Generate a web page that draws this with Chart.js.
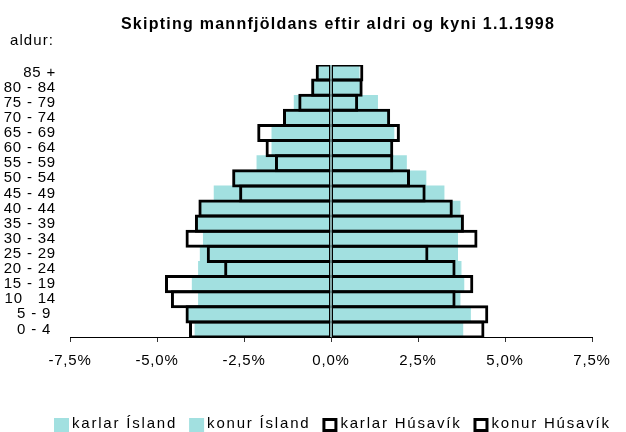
<!DOCTYPE html>
<html>
<head>
<meta charset="utf-8">
<script src="https://cdn.jsdelivr.net/npm/chart.js@4/dist/chart.umd.min.js"></script>
<style>
  html, body { margin: 0; padding: 0; background: #fff; }
</style>
</head>
<body>
<canvas id="pyramid" width="626" height="432"></canvas>
<script>
// Aldurshópar, yngstu fyrst (y-ásnum er snúið við svo 0 - 4 lendir neðst)
const ageGroups = ['0 - 4 ', '5 - 9 ', '10   14', '15 - 19', '20 - 24', '25 - 29', '30 - 34', '35 - 39',
  '40 - 44', '45 - 49', '50 - 54', '55 - 59', '60 - 64', '65 - 69', '70 - 74', '75 - 79', '80 - 84', '85 +'];

// Hlutfall af mannfjölda (%), karlar neikvæðir
const karlarIsland  = [-3.91, -4.12, -3.81, -3.99, -3.81, -3.76, -3.67, -3.84, -3.75, -3.36, -2.75, -2.13, -1.70, -1.70, -1.35, -1.06, -0.55, -0.40];
const konurIsland   = [ 3.79,  4.01,  3.71,  3.82,  3.74,  3.64,  3.64,  3.76,  3.71,  3.25,  2.73,  2.17,  1.76,  1.81,  1.66,  1.34,  0.88,  0.81];
const karlarHusavik = [-4.08, -4.18, -4.60, -4.77, -3.07, -3.57, -4.18, -3.91, -3.81, -2.64, -2.84, -1.61, -1.88, -2.12, -1.38, -0.94, -0.57, -0.44];
const konurHusavik  = [ 4.41,  4.52,  3.58,  4.09,  3.58,  2.80,  4.21,  3.82,  3.50,  2.72,  2.27,  1.79,  1.79,  1.98,  1.70,  0.78,  0.91,  0.93];

const xTicks = [-7.5, -5, -2.5, 0, 2.5, 5, 7.5];

const titleText = 'Skipting mannfjöldans eftir aldri og kyni 1.1.1998';
const axisTitle = 'aldur:';

const FONT = '"Liberation Sans", Arial, sans-serif';
const CYAN = '#a2e0e0';

Chart.defaults.font.family = FONT;
Chart.defaults.color = '#000';

// Excel-letrið er gisið, því er stafabil sett á canvas-samhengið
const spacing = {
    id: 'spacing',
    beforeLayout(chart) { chart.ctx.letterSpacing = '0.8px'; },
    beforeDraw(chart) { chart.ctx.letterSpacing = '0.8px'; }
};

// Fyrirsögn, "aldur:" og skýringar teiknað sjálft
const decorations = {
    id: 'decorations',
    afterDraw(chart) {
        const ctx = chart.ctx;
        ctx.save();
        ctx.fillStyle = '#000';
        ctx.textBaseline = 'alphabetic';

        ctx.font = 'bold 16px ' + FONT;
        ctx.letterSpacing = '1.25px';
        ctx.textAlign = 'center';
        ctx.fillText(titleText, 338, 29);

        ctx.font = '15px ' + FONT;
        ctx.letterSpacing = '1.1px';
        ctx.textAlign = 'left';
        ctx.fillText(axisTitle, 10, 45);

        ctx.letterSpacing = '1.8px';
        let x = 54;
        chart.data.datasets.forEach(ds => {
            const outlined = ds.borderColor === '#000';
            if (outlined) {
                ctx.fillStyle = '#fff';
                ctx.fillRect(x, 418, 15, 14);
                ctx.strokeStyle = '#000';
                ctx.lineWidth = 3;
                ctx.strokeRect(x + 1.5, 419.5, 12, 11);
            } else {
                ctx.fillStyle = ds.backgroundColor;
                ctx.fillRect(x, 418, 15, 14);
            }
            ctx.fillStyle = '#000';
            ctx.fillText(ds.label, x + 18, 428);
            x += 18 + ctx.measureText(ds.label).width + 12;
        });
        ctx.restore();
    }
};

const fillBar = { backgroundColor: CYAN, borderWidth: 0, grouped: false, barPercentage: 1, categoryPercentage: 1, order: 2 };
const boxBar = { backgroundColor: 'rgba(0,0,0,0)', borderColor: '#000', borderSkipped: false,
    grouped: false, barPercentage: 1.2, categoryPercentage: 1, order: 1 };

new Chart(document.getElementById('pyramid'), {
    type: 'bar',
    data: {
        labels: ageGroups,
        datasets: [
            { ...fillBar, label: 'karlar Ísland', data: karlarIsland },
            { ...fillBar, label: 'konur Ísland', data: konurIsland },
            { ...boxBar, label: 'karlar Húsavík', data: karlarHusavik,
              borderWidth: { top: 3, bottom: 3, left: 3, right: 1.5 } },
            { ...boxBar, label: 'konur Húsavík', data: konurHusavik,
              borderWidth: { top: 3, bottom: 3, left: 1.5, right: 3 } }
        ]
    },
    options: {
        indexAxis: 'y',
        responsive: false,
        devicePixelRatio: 1,
        animation: false,
        layout: { padding: { top: 65, right: 34, bottom: 0, left: 0 } },
        plugins: {
            legend: { display: false },
            title: { display: false },
            tooltip: { enabled: false }
        },
        scales: {
            x: {
                type: 'linear',
                min: xTicks[0],
                max: xTicks[xTicks.length - 1],
                afterBuildTicks(scale) { scale.ticks = xTicks.map(v => ({ value: v })); },
                afterFit(scale) { scale.height = 95; },
                grid: { drawOnChartArea: false, drawTicks: true, tickLength: 5, color: '#333' },
                border: { display: true, color: '#000', width: 1 },
                ticks: {
                    font: { size: 15 },
                    padding: 10,
                    maxRotation: 0,
                    callback: v => v.toFixed(1).replace('.', ',') + '%'
                }
            },
            y: {
                reverse: true,
                afterFit(scale) { scale.width = 70; },
                grid: { display: false, drawTicks: false },
                border: { display: false },
                ticks: { font: { size: 15 }, padding: 14, autoSkip: false }
            }
        }
    },
    plugins: [spacing, decorations]
});
</script>
</body>
</html>
